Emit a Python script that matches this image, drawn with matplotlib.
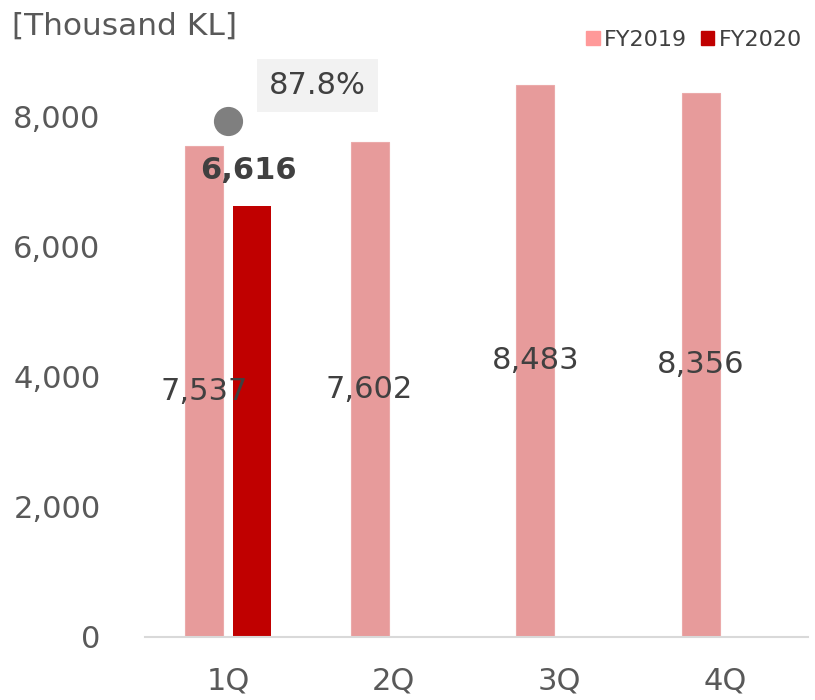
import matplotlib.pyplot as plt
from matplotlib.patches import Patch
import numpy as np

# dados
quarters = ['1Q', '2Q', '3Q', '4Q']
fy2019 = [7537, 7602, 8483, 8356]
fy2020 = [6616]
ratio_label = '87.8%'
ratio_point = 7925   # posição do marcador cinza (1Q)

pink = '#E79B9B'
red = '#C00000'
txt = '#404040'
tick_col = '#595959'

fig = plt.figure(figsize=(8.15, 7.0), dpi=100)
ax = fig.add_axes([145/815, 1-637/700, 663/815, 586/700])

x = np.arange(len(quarters))
w = 0.23
off = 0.145

ax.bar(x - off, fy2019, width=w, color=pink, edgecolor='#EBAAAA', linewidth=0.8)
ax.bar(x[:len(fy2020)] + off, fy2020, width=w, color=red)

# rótulos no meio das barras FY2019
for xi, v in zip(x, fy2019):
    ax.text(xi - off, v/2, f'{v:,}', ha='center', va='center', fontsize=22, color=txt)

# rótulo FY2020 em negrito acima da barra
for xi, v in zip(x, fy2020):
    ax.text(xi + off - 0.02, v + 550, f'{v:,}', ha='center', va='center',
            fontsize=22, color=txt, fontweight='bold')

# marcador cinza e caixa da porcentagem
ax.plot([x[0]], [ratio_point], 'o', color='#7F7F7F', markersize=20)
ax.text(0.54, 8470, ratio_label, ha='center', va='center', fontsize=22, color=txt,
        bbox=dict(boxstyle='square,pad=0.4', facecolor='#F2F2F2', edgecolor='none'))

ax.set_xlim(-0.5, 3.5)
ax.set_ylim(0, 9000)
ax.set_yticks([0, 2000, 4000, 6000, 8000])
ax.set_yticklabels([f'{t:,}' for t in [0, 2000, 4000, 6000, 8000]])
ax.set_xticks(x)
ax.set_xticklabels(quarters)
ax.tick_params(axis='y', length=0, pad=32, labelsize=22, labelcolor=tick_col)
ax.tick_params(axis='x', length=0, pad=21, labelsize=22, labelcolor=tick_col)

for s in ['top', 'right', 'left']:
    ax.spines[s].set_visible(False)
ax.spines['bottom'].set_color('#D9D9D9')
ax.spines['bottom'].set_linewidth(1.5)

fig.text(12/815, 1-26/700, '[Thousand KL]', ha='left', va='center', fontsize=22.5, color=tick_col)

handles = [Patch(color='#FF9999'), Patch(color=red)]
fig.legend(handles, ['FY2019', 'FY2020'], loc='center right', bbox_to_anchor=(1.0, 1-40/700),
           ncol=2, frameon=False, fontsize=16, handlelength=0.6, handleheight=0.6,
           handletextpad=0.2, columnspacing=0.6, labelcolor=txt, borderaxespad=0.2)

fig.savefig('out.png', dpi=100)
